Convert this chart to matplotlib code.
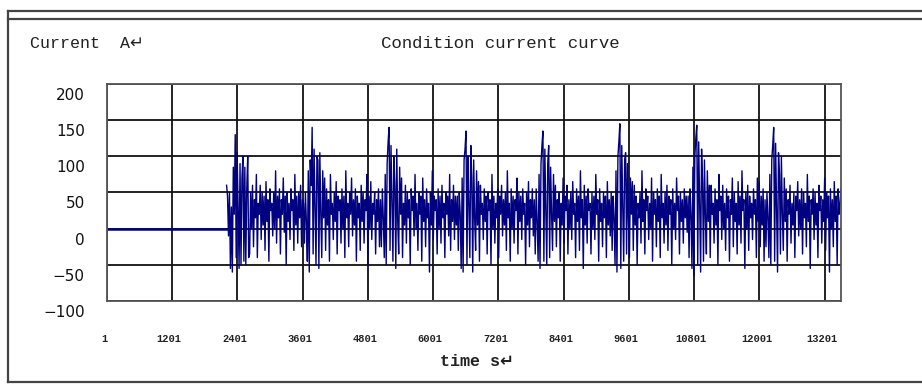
import numpy as np
import matplotlib
matplotlib.use('Agg')
import matplotlib.pyplot as plt
import matplotlib.transforms as mtransforms
from matplotlib.lines import Line2D

# 工况电流曲线 (Condition current curve)
idle_time = [1, 2200]
idle_current = [0, 0]

# current samples, 2200 s .. 13500 s (8 cycles, 80 samples each)
cycle1 = [60, 45, -10, 50, -55, 30, -60, 85, 20, 130, -40, 105, 30, -55, 90, -50, 70, 100, -45, 85,
          -50, 55, 100, -40, -35, 50, 0, 60, -25, 40, 15, 75, -40, 35, 20, 60, -15, 50, 5, 45,
          -30, 65, 10, 40, -45, 55, 25, 35, -10, 50, 0, 80, -20, 45, 15, 55, -35, 40, 20, 70,
          -5, 45, -50, 50, 10, 35, -15, 55, 25, 40, -30, 75, 5, 45, -20, 50, 15, 60, -25, 40]
cycle2 = [35, -20, 50, 10, -45, 80, -60, 95, 60, 140, -35, 110, 30, -50, 100, 95, -55, 105, 20, -40,
          80, 15, 70, -30, 55, 5, 40, -45, 75, 20, 35, -15, 50, 10, 65, -35, 45, 25, 40, -20,
          55, 0, 45, -40, 80, 15, 35, -25, 50, 20, 70, -10, 40, 5, 55, -45, 45, 15, 35, -30,
          60, 10, 50, -20, 40, 25, 75, -50, 45, 0, 65, -15, 35, 20, 50, -35, 40, 10, 55, -25]
cycle3 = [40, -25, 55, 15, -40, 75, -50, 90, 120, 140, -30, 115, 40, -45, 100, 60, -55, 110, 10, -35,
          85, 20, 70, -40, 35, 5, 60, -20, 50, 15, 40, -50, 55, 25, 45, -10, 75, 0, 35, -30,
          50, 20, 45, -45, 70, 10, 40, -25, 55, 15, 35, -60, 50, 5, 80, -15, 45, 25, 40, -35,
          55, 0, 45, -20, 60, 15, 35, -40, 50, 20, 45, -10, 75, -30, 40, 10, 60, -15, 45, 5]
cycle4 = [45, -30, 50, 20, -55, 70, -60, 95, 110, 135, -50, 100, 35, -40, 115, 70, -60, 95, 15, -30,
          80, 5, 65, -45, 60, 20, 35, -15, 55, 10, 45, -35, 50, 25, 40, -50, 75, 0, 45, -20,
          35, 15, 55, -40, 45, 20, 60, -10, 40, 5, 50, -30, 80, 15, 35, -45, 55, 0, 45, -20,
          40, 25, 70, -35, 50, 10, 45, -15, 55, 20, 35, -50, 50, 5, 65, -25, 40, 15, 55, -10]
cycle5 = [40, -35, 55, 10, -45, 75, -55, 90, 115, 135, -45, 110, 25, -50, 90, 115, -40, 85, 20, -30,
          75, 10, 60, -25, 40, 15, 50, -45, 35, 5, 70, -20, 45, 25, 60, -35, 40, 0, 50, -15,
          65, 20, 35, -40, 55, 10, 45, -30, 80, 15, 40, -55, 60, 5, 45, -20, 55, 25, 35, -35,
          50, 0, 45, -15, 75, 20, 40, -45, 55, 10, 35, -25, 50, 15, 45, -40, 65, 5, 40, -10]
cycle6 = [50, -30, 45, 15, -50, 80, -60, 100, 120, 145, -55, 115, 30, -45, 95, 105, -35, 90, 10, -40,
          70, 20, 65, -30, 60, 5, 45, -50, 35, 15, 50, -20, 80, 10, 40, -35, 55, 25, 45, -15,
          35, 0, 70, -45, 50, 20, 40, -25, 55, 10, 45, -40, 75, 15, 35, -20, 50, 5, 60, -30,
          45, 20, 40, -50, 55, 0, 35, -15, 70, 25, 45, -35, 50, 10, 40, -20, 55, 15, 45, -5]
cycle7 = [45, -40, 55, 20, -55, 85, -65, 100, 125, 143, -50, 120, 35, -60, 110, 65, -45, 95, 15, -35,
          80, 10, 60, -40, 60, 20, 35, -20, 55, 5, 40, -50, 75, 25, 45, -15, 60, 0, 35, -30,
          55, 15, 45, -45, 40, 20, 70, -25, 50, 10, 35, -35, 65, 5, 45, -20, 80, 25, 40, -55,
          50, 0, 60, -30, 45, 15, 35, -15, 55, 20, 40, -40, 70, 10, 65, -25, 45, 5, 55, -45]
cycle8 = [40, -25, 50, 15, -40, 75, -50, 95, 115, 140, -45, 118, 30, -60, 105, 75, -35, 100, 20, -30,
          70, 10, 55, -45, 40, 20, 60, -20, 35, 5, 50, -40, 45, 25, 65, -10, 40, 0, 55, -35,
          50, 15, 35, -25, 75, 10, 45, -55, 40, 20, 55, -15, 50, 5, 35, -40, 60, 25, 45, -20,
          40, 10, 70, -30, 50, 15, 45, -60, 55, 0, 40, -25, 65, 10, 45, -50, 55, 20, 35, 55]

x_ticks = [1, 1201, 2401, 3601, 4801, 6001, 7201, 8401, 9601, 10801, 12001, 13201]
y_ticks = [-100, -50, 0, 50, 100, 150, 200]

current = cycle1 + cycle2 + cycle3 + cycle4 + cycle5 + cycle6 + cycle7 + cycle8
t = np.linspace(2200, 13500, len(current))

fig = plt.figure(figsize=(9.22, 3.84), dpi=100)
ax = fig.add_axes([107 / 922, 1 - 301 / 384, (841 - 107) / 922, (301 - 84) / 384])

ax.plot(idle_time, idle_current, color='#000080', lw=1.8)
ax.plot(t, current, color='#000080', lw=1.0)

ax.set_xlim(1, 13500)
ax.set_ylim(-100, 200)
ax.set_xticks(x_ticks)
ax.set_yticks(y_ticks)
ax.set_xticklabels([str(v) for v in x_ticks], fontsize=7.5, fontweight='bold',
                   family='Liberation Mono', color='#222222')
ax.set_yticklabels([str(v).replace('-', '\u2212') for v in y_ticks], fontsize=11,
                   family='DejaVu Sans', color='#111111')
ax.tick_params(axis='both', length=0)
ax.tick_params(axis='x', pad=24)
ax.tick_params(axis='y', pad=16)
# y labels sit a little below their grid lines
off = mtransforms.ScaledTranslation(0, -10 / 100, fig.dpi_scale_trans)
for lab in ax.get_yticklabels():
    lab.set_transform(lab.get_transform() + off)
xoff = mtransforms.ScaledTranslation(-3 / 100, 0, fig.dpi_scale_trans)
for lab in ax.get_xticklabels():
    lab.set_transform(lab.get_transform() + xoff)

ax.grid(True, color='#111111', lw=1.3)
for s in ax.spines.values():
    s.set_color('#555555')
    s.set_linewidth(1.3)
ax.set_axisbelow(True)

# frame like a table cell
fc = '#444444'
fig.add_artist(Line2D([8 / 922, 1], [1 - 11 / 384, 1 - 11 / 384], color=fc, lw=1.6))
fig.add_artist(Line2D([8 / 922, 1], [1 - 19 / 384, 1 - 19 / 384], color=fc, lw=1.6))
fig.add_artist(Line2D([8 / 922, 8 / 922], [1 - 382 / 384, 1 - 11 / 384], color=fc, lw=1.6))
fig.add_artist(Line2D([8 / 922, 1], [1 - 382 / 384, 1 - 382 / 384], color=fc, lw=1.6))

mono = ['Liberation Mono', 'DejaVu Sans']
fig.text(30 / 922, 1 - 44 / 384, 'Current  A\u21b5', fontsize=12, family=mono,
         va='center', ha='left', color='#222222')
fig.text(500 / 922, 1 - 44 / 384, 'Condition current curve', fontsize=12.5, family=mono,
         va='center', ha='center', color='#222222')
fig.text(440 / 922, 1 - 362 / 384, 'time s\u21b5', fontsize=12, family=mono,
         fontweight='bold', va='center', ha='left', color='#222222')

fig.savefig('out.png', dpi=100)
